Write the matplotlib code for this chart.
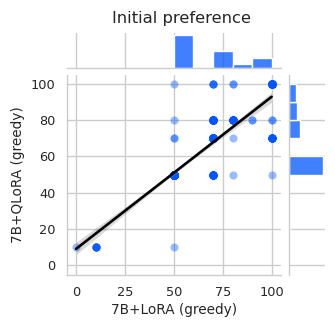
import numpy as np
import pandas as pd
import matplotlib
matplotlib.use("Agg")
import matplotlib.pyplot as plt
import seaborn as sns

# 每个 (x, y) 取值组合及其样本数（从图中点的深浅和边缘直方图估计）
x_vals = [0, 10, 50, 50, 50, 50, 50, 70, 70, 70, 70, 80, 80, 80, 80, 90, 100, 100, 100, 100]
y_vals = [10, 10, 10, 50, 70, 80, 100, 50, 70, 80, 100, 50, 70, 80, 100, 80, 50, 70, 80, 100]
counts = [1, 6, 1, 180, 2, 1, 1, 18, 46, 26, 4, 1, 1, 20, 2, 2, 1, 15, 2, 34]

x_ticks = [0, 25, 50, 75, 100]
y_ticks = [0, 20, 40, 60, 80, 100]
x_bins = np.arange(0, 101, 10)
y_bins = np.arange(10, 101, 10)

df = pd.DataFrame({
    "x": np.repeat(x_vals, counts),
    "y": np.repeat(y_vals, counts),
})

sns.set_theme(style="whitegrid")
plt.rcParams["font.family"] = ["DejaVu Sans"]

color = "#0055ff"
W, H = 335, 328
fig = plt.figure(figsize=(W / 100, H / 100), dpi=100)


def _rect(left, top, right, bottom):
    """像素坐标 -> figure 坐标。"""
    return [left / W, 1 - bottom / H, (right - left) / W, (bottom - top) / H]


ax = fig.add_axes(_rect(66.7, 75, 281, 275))
ax_top = fig.add_axes(_rect(66.7, 33, 281, 68), sharex=ax)
ax_right = fig.add_axes(_rect(288.5, 75, 325, 275), sharey=ax)

sns.regplot(
    data=df, x="x", y="y", ax=ax, color=color, seed=0,
    scatter_kws={"alpha": 0.4, "s": 34, "linewidths": 0},
    line_kws={"color": "black", "lw": 1.9},
)
ax.set_xlim(-4.8, 104.8)
ax.set_ylim(-5.5, 105)
ax.set_xticks(x_ticks)
ax.set_yticks(y_ticks)
ax.tick_params(length=0, pad=8.1, labelsize=9.3, colors="#262626")
ax.set_xlabel("7B+LoRA (greedy)", fontsize=9.8, color="#262626")
ax.set_ylabel("7B+QLoRA (greedy)", fontsize=9.8, color="#262626")
ax.xaxis.set_label_coords(0.5, -0.139)
ax.yaxis.set_label_coords(-0.195, 0.5)

sns.histplot(data=df, x="x", bins=x_bins, color=color, ax=ax_top)
sns.histplot(data=df, y="y", bins=y_bins, color=color, ax=ax_right)

for a in (ax, ax_top, ax_right):
    for s in a.spines.values():
        s.set_color("#cccccc")
        s.set_linewidth(1.0)

for side in ("top", "right"):
    ax.spines[side].set_visible(False)
for side in ("top", "left", "right"):
    ax_top.spines[side].set_visible(False)
for side in ("top", "right", "bottom"):
    ax_right.spines[side].set_visible(False)

ax_top.yaxis.grid(False)
ax_right.xaxis.grid(False)
ax_top.set_xlabel("")
ax_top.set_ylabel("")
ax_right.set_xlabel("")
ax_right.set_ylabel("")
ax_top.tick_params(length=0, labelbottom=False, labelleft=False)
ax_right.tick_params(length=0, labelbottom=False, labelleft=False)

fig.text(182 / W, 1 - 19 / H, "Initial preference", ha="center", va="center",
         fontsize=11.8, color="#262626")

fig.savefig("out.png", dpi=100)
